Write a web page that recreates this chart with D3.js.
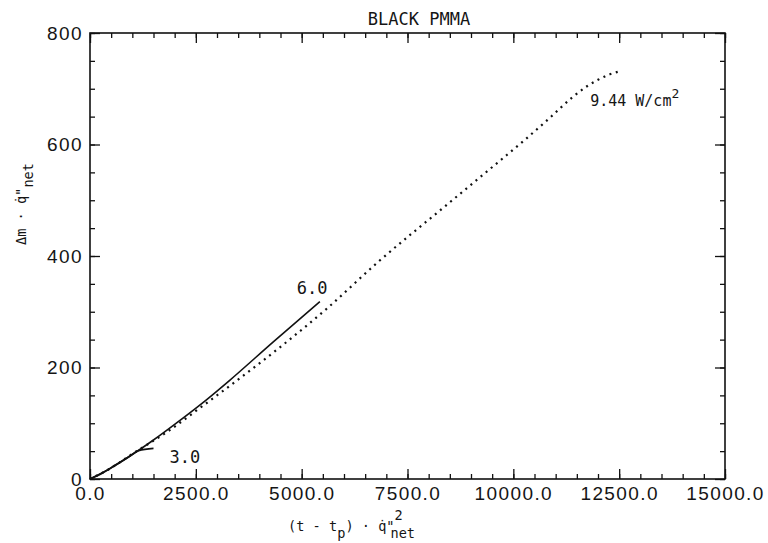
<!DOCTYPE html>
<html>
<head>
<meta charset="utf-8">
<script src="https://cdn.jsdelivr.net/npm/d3@7"></script>
<style>
  body { margin: 0; background: #fff; }
  svg text { font-family: "DejaVu Sans Mono", monospace; fill: #151515; }
  .ticklab { font-family: "Liberation Sans", Arial, sans-serif; letter-spacing: 1.4px; }
</style>
</head>
<body>
<svg id="chart" width="768" height="543"></svg>
<script>
// values
const xMajor = [0, 2500, 5000, 7500, 10000, 12500, 15000]
const yMajor = [0, 200, 400, 600, 800]

// 9.44 W/cm2 run (dotted)
const run944X = [0, 500, 1000, 1890, 2500, 3300, 4500, 5600, 6800, 8400, 9700, 10250, 10850, 11400, 11750, 12000, 12250, 12500]
const run944Y = [0, 20, 45, 88, 122, 167, 237, 306, 389, 490, 572, 607, 647, 685, 705, 716, 725, 731]

// 6.0 run (solid)
const run60X = [0, 500, 1000, 1500, 2000, 2750, 3300, 4330, 5430]
const run60Y = [0, 20, 44, 70, 98, 142, 177, 246, 318]

// 3.0 run (solid, short)
const run30X = [0, 300, 600, 900, 1150, 1500]
const run30Y = [0, 11, 25, 39, 51, 55]

const title = "BLACK PMMA"

//setup
const svg = d3.select("#chart")
const margin = { top: 33, right: 43, bottom: 64, left: 90 }
const width = 768 - margin.left - margin.right
const height = 543 - margin.top - margin.bottom

const x = d3.scaleLinear().domain([0, 15000]).range([0, width])
const y = d3.scaleLinear().domain([0, 800]).range([height, 0])

const xMinor = d3.range(0, 15001, 500)
const yMinor = d3.range(0, 801, 50)

const g = svg.append("g")
  .attr("transform", "translate(" + margin.left + "," + margin.top + ")")

//axes -- ticks all point inward
function tidy(sel) {
  sel.select(".domain").remove()
  sel.selectAll(".tick line").attr("stroke", "#111").attr("stroke-width", 1.3)
}

g.append("g").attr("transform", "translate(0," + height + ")")
  .call(d3.axisBottom(x).tickValues(xMinor).tickSize(-5).tickFormat(""))
  .call(tidy)
g.append("g").attr("transform", "translate(0," + height + ")")
  .call(d3.axisBottom(x).tickValues(xMajor).tickSize(-10).tickPadding(8)
    .tickFormat(d3.format(".1f")))
  .call(tidy)
  .selectAll("text").attr("class", "ticklab").attr("font-size", 19).attr("font-family", null)

g.append("g")
  .call(d3.axisTop(x).tickValues(xMinor).tickSize(-5).tickFormat(""))
  .call(tidy)
g.append("g")
  .call(d3.axisTop(x).tickValues(xMajor).tickSize(-10).tickFormat(""))
  .call(tidy)

g.append("g")
  .call(d3.axisLeft(y).tickValues(yMinor).tickSize(-5).tickFormat(""))
  .call(tidy)
g.append("g")
  .call(d3.axisLeft(y).tickValues(yMajor).tickSize(-10).tickPadding(7))
  .call(tidy)
  .selectAll("text").attr("class", "ticklab").attr("font-size", 19).attr("font-family", null)

g.append("g").attr("transform", "translate(" + width + ",0)")
  .call(d3.axisRight(y).tickValues(yMinor).tickSize(-5).tickFormat(""))
  .call(tidy)
g.append("g").attr("transform", "translate(" + width + ",0)")
  .call(d3.axisRight(y).tickValues(yMajor).tickSize(-10).tickFormat(""))
  .call(tidy)

g.append("rect")
  .attr("width", width).attr("height", height)
  .attr("fill", "none").attr("stroke", "#111").attr("stroke-width", 1.6)

//curves
const line = d3.line()
  .x((d) => x(d[0]))
  .y((d) => y(d[1]))
  .curve(d3.curveMonotoneX)

const pts944 = run944X.map((d, i) => [d, run944Y[i]])
const pts60 = run60X.map((d, i) => [d, run60Y[i]])
const pts30 = run30X.map((d, i) => [d, run30Y[i]])

g.append("path").datum(pts944)
  .attr("d", line)
  .attr("fill", "none").attr("stroke", "#111")
  .attr("stroke-width", 2.2).attr("stroke-dasharray", "2 4.6")

g.append("path").datum(pts60)
  .attr("d", line)
  .attr("fill", "none").attr("stroke", "#111").attr("stroke-width", 1.6)

g.append("path").datum(pts30)
  .attr("d", line)
  .attr("fill", "none").attr("stroke", "#111").attr("stroke-width", 1.8)

//curve labels
const end60 = pts60[pts60.length - 1]
g.append("text")
  .attr("x", x(end60[0]) - 23).attr("y", y(end60[1]) - 8)
  .attr("font-size", 17).text("6.0")

const end30 = pts30[pts30.length - 1]
g.append("text")
  .attr("x", x(end30[0]) + 16).attr("y", y(end30[1]) + 15)
  .attr("font-size", 17).text("3.0")

const end944 = pts944[pts944.length - 1]
const lab944 = g.append("text")
  .attr("x", x(end944[0]) - 29).attr("y", y(end944[1]) + 35)
  .attr("font-size", 15)
lab944.append("tspan").text("9.44 W/cm")
lab944.append("tspan").attr("dy", -8).attr("font-size", 13).text("2")

//title
svg.append("text")
  .attr("x", 419).attr("y", 25)
  .attr("text-anchor", "middle")
  .attr("font-size", 17)
  .text(title)

//axis titles
const cw = 8.2
const xl = svg.append("g").attr("font-size", 13.6)
xl.append("text").attr("x", 288).attr("y", 531).text("(t - t")
xl.append("text").attr("x", 288 + 6 * cw).attr("y", 538).text("p")
xl.append("text").attr("x", 288 + 7 * cw).attr("y", 531).text(") \u00b7 q\u0307\"")
xl.append("text").attr("x", 288 + 13 * cw).attr("y", 520).text("2")
xl.append("text").attr("x", 288 + 12.5 * cw).attr("y", 538).text("net")

const yl = svg.append("g")
  .attr("transform", "translate(26,245) rotate(-90)")
  .attr("font-size", 13.6)
yl.append("text").attr("x", 0).attr("y", 0).text("\u0394m \u00b7 q\u0307\"")
yl.append("text").attr("x", 7 * cw).attr("y", 7).text("net")
</script>
</body>
</html>
